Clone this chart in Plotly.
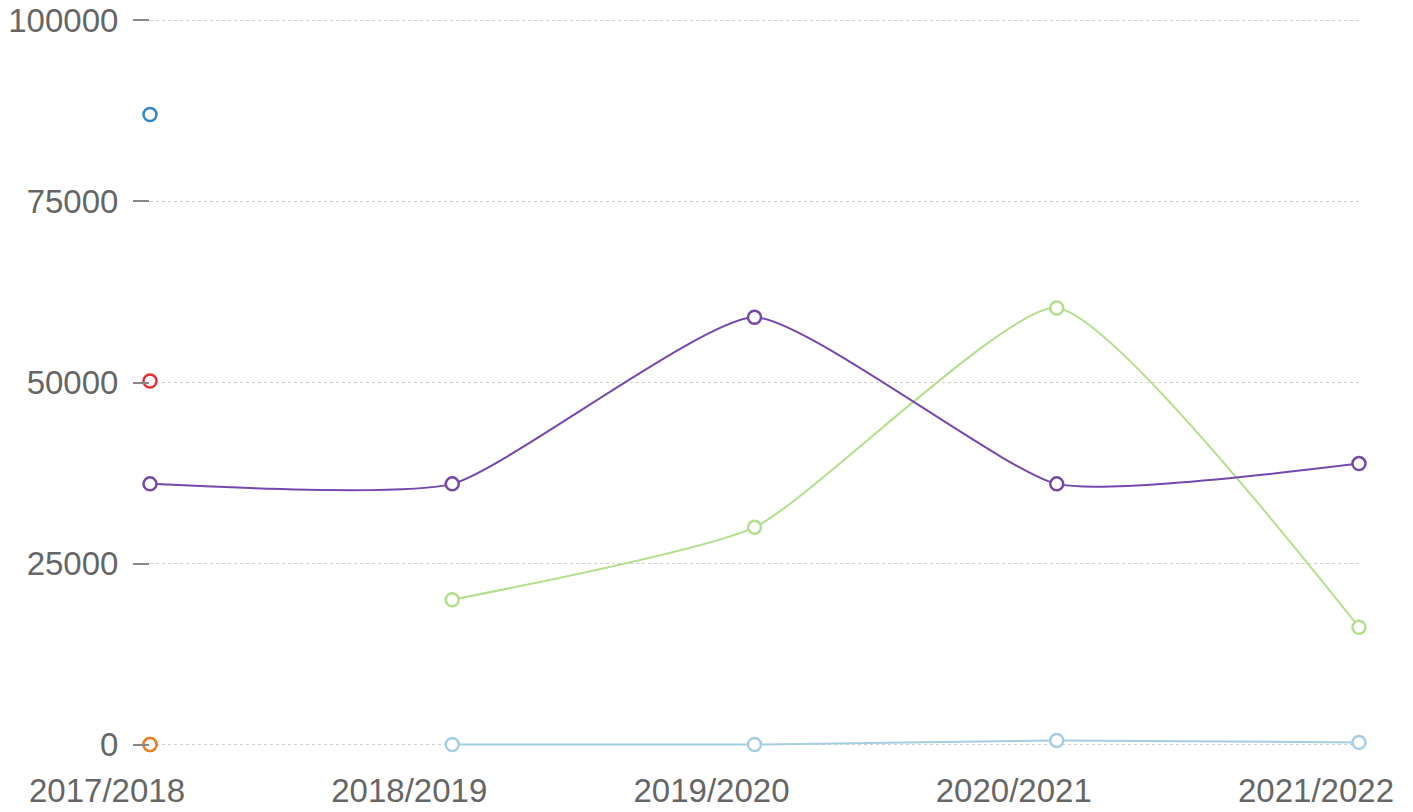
import plotly.graph_objects as go

categories = ["2017/2018", "2018/2019", "2019/2020", "2020/2021", "2021/2022"]

series_blue = [87000, None, None, None, None]
series_red = [50200, None, None, None, None]
series_green_dark = [0, None, None, None, None]
series_orange = [0, None, None, None, None]
series_purple = [36000, 36000, 59000, 36000, 38800]
series_light_green = [None, 20000, 30000, 60300, 16200]
series_light_blue = [None, 0, 0, 550, 300]

y_ticks = [0, 25000, 50000, 75000, 100000]

series = [
    ("Series A", series_light_blue, "#a6cee3"),
    ("Series B", series_blue, "#2f86c8"),
    ("Series C", series_light_green, "#b2df8a"),
    ("Series D", series_green_dark, "#33a02c"),
    ("Series E", series_red, "#ec3038"),
    ("Series F", series_orange, "#f08020"),
    ("Series G", series_purple, "#7548ae"),
]

fig = go.Figure()
x_idx = list(range(len(categories)))
for name, vals, color in series:
    fig.add_trace(go.Scatter(
        x=x_idx, y=vals, name=name, mode="lines+markers",
        line=dict(color=color, width=2, shape="spline", smoothing=0.5),
        marker=dict(symbol="circle", size=13, color="white",
                    line=dict(color=color, width=2.5)),
        cliponaxis=False, connectgaps=False,
    ))

font = dict(family="Liberation Sans, Arial, sans-serif", size=33, color="#666666")

fig.update_layout(
    width=1405, height=804,
    margin=dict(l=142, r=54, t=11, b=66),
    paper_bgcolor="white", plot_bgcolor="white",
    showlegend=False,
    font=font,
    xaxis=dict(
        range=[0, 4], tickmode="array", tickvals=x_idx, ticktext=categories,
        showgrid=False, zeroline=False, showline=False, ticks="",
        tickfont=font, automargin=False,
        ticklabelstandoff=22, ticklabelshift=-43, ticklabeloverflow="allow",
    ),
    yaxis=dict(
        range=[-200, 100200], tickmode="array", tickvals=y_ticks,
        ticktext=[str(v) for v in y_ticks],
        showgrid=True, gridcolor="#cfcfcf", griddash="dot", gridwidth=1,
        zeroline=False, showline=False,
        ticks="outside", ticklen=16, tickwidth=2, tickcolor="#888888",
        tickfont=font, automargin=False, ticklabelstandoff=8,
        ticklabeloverflow="allow",
    ),
)

fig.write_html("out.html")
